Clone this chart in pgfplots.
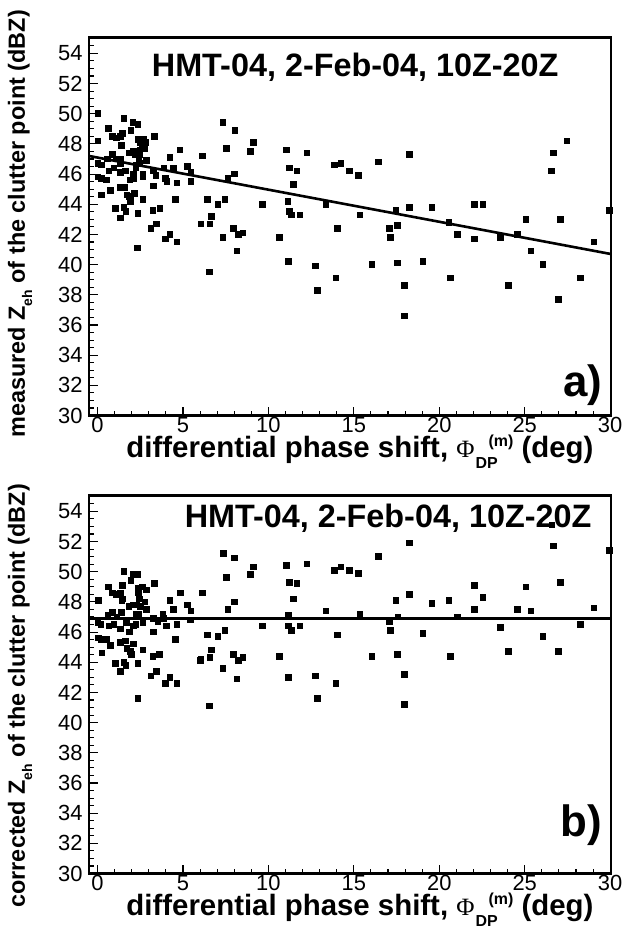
\documentclass[border=0pt]{standalone}
\usepackage{fontspec}
\setmainfont{Liberation Sans}
\newfontfamily\serifgreek{Liberation Serif}
\usepackage{pgfplots}
\pgfplotsset{compat=1.18}

\pgfplotstableread{
x y
0.02 50.0
1.54 49.7
2.07 49.4
2.36 49.3
7.35 49.4
0.64 49.0
1.95 48.9
1.46 48.7
8.05 48.9
0.86 48.5
1.11 48.4
1.35 48.5
3.35 48.5
2.36 48.3
2.71 48.3
0.02 48.2
2.48 48.1
2.83 48.1
2.61 48.0
9.14 48.1
1.40 47.9
2.77 47.7
2.61 47.7
7.54 47.7
4.83 47.6
2.48 47.6
2.12 47.5
2.32 47.5
1.85 47.4
8.95 47.5
0.88 47.3
2.22 47.3
2.48 47.3
6.16 47.2
0.57 47.0
1.11 47.0
1.33 47.0
4.25 47.1
2.42 47.1
0.02 46.7
0.23 46.6
1.35 46.7
2.44 46.7
2.85 46.9
0.66 46.2
0.96 46.4
1.35 46.1
1.64 46.2
2.24 46.4
2.26 46.6
3.26 46.2
3.43 45.9
3.88 46.4
4.44 46.4
5.26 46.5
5.48 46.1
2.65 46.0
2.65 45.8
2.09 46.0
0.02 45.8
0.23 45.7
0.53 45.6
1.89 45.6
2.11 45.7
3.98 45.7
4.07 45.5
4.66 45.4
5.46 45.5
8.03 46.0
7.64 45.7
3.26 45.2
0.76 44.9
1.35 45.1
1.60 45.1
2.16 44.7
1.73 44.6
1.87 44.5
0.23 44.6
1.95 44.3
1.93 44.2
2.67 44.3
4.56 44.3
6.45 44.3
7.45 44.3
7.06 44.0
1.05 43.7
1.54 43.8
1.66 43.5
3.24 43.6
3.65 43.7
2.36 43.4
1.36 43.1
6.67 43.2
6.06 42.7
6.57 42.7
3.45 42.7
3.14 42.4
7.95 42.4
8.52 42.1
8.25 42.0
4.25 42.0
3.96 41.7
7.35 41.8
4.66 41.5
2.34 41.1
8.15 40.9
6.55 39.5
11.05 47.6
12.26 47.4
11.25 46.4
11.68 46.2
13.86 46.6
14.25 46.7
14.76 46.2
15.26 45.9
16.45 46.8
18.27 47.3
11.46 45.3
9.67 44.0
11.15 44.2
11.25 43.5
11.36 43.3
11.85 43.3
13.37 44.0
15.36 43.3
17.46 43.6
18.27 43.8
14.05 42.4
17.08 42.4
17.56 42.6
17.15 41.8
10.66 41.8
11.17 40.2
12.75 39.9
16.06 40.0
17.54 40.1
19.04 40.2
13.96 39.1
12.87 38.3
17.95 38.6
17.95 36.6
27.47 48.2
26.67 47.4
26.57 46.2
19.57 43.8
22.07 44.0
22.55 44.0
29.96 43.6
20.58 42.8
25.07 43.0
27.08 43.0
21.07 42.0
22.07 41.7
23.57 41.8
24.56 42.0
29.06 41.5
25.36 40.9
26.08 40.0
20.66 39.1
24.05 38.6
28.26 39.1
26.96 37.7
}\measured

\pgfplotstableread{
x y
7.37 51.2
8.03 50.9
9.14 50.3
8.95 49.8
1.54 50.0
2.07 49.8
2.36 49.8
1.95 49.4
7.54 49.6
3.35 49.2
0.64 49.0
1.46 49.1
0.86 48.6
1.11 48.5
1.35 48.6
2.36 48.9
2.63 49.0
2.87 48.8
0.04 48.1
4.85 48.6
6.16 48.6
1.42 48.1
1.45 48.2
2.40 48.6
2.44 48.2
2.77 48.0
4.25 48.1
8.03 48.0
7.64 47.5
5.26 47.8
1.85 47.7
2.12 47.8
2.28 47.8
2.51 47.7
2.88 47.5
4.46 47.5
5.46 47.4
0.88 47.3
1.40 47.3
1.13 47.0
0.62 47.1
2.28 47.2
2.42 47.2
3.84 47.2
3.26 46.9
3.53 46.7
3.88 46.9
5.44 46.8
0.02 46.6
0.21 46.5
0.68 46.4
0.96 46.5
1.68 46.6
2.24 46.5
2.67 46.6
4.04 46.4
4.66 46.5
1.35 46.2
1.87 46.0
2.09 46.4
3.26 46.0
0.06 45.6
0.23 45.5
0.53 45.5
1.35 45.3
1.64 45.4
4.56 45.5
6.45 45.8
7.06 45.7
7.45 46.1
0.76 45.1
2.12 45.2
2.65 44.8
6.67 44.8
1.73 44.9
1.93 44.7
1.97 44.5
0.25 44.6
3.24 44.4
3.64 44.5
6.06 44.2
6.04 44.1
6.57 44.3
7.95 44.5
8.52 44.3
8.25 44.1
1.05 43.9
1.54 44.0
1.66 43.8
2.36 43.9
7.35 43.6
1.36 43.4
3.45 43.4
3.14 43.1
4.25 43.0
3.96 42.6
4.66 42.6
8.15 42.9
2.36 41.6
6.55 41.1
18.27 51.9
16.45 51.0
11.05 50.4
12.26 50.5
13.86 50.1
14.25 50.3
14.76 50.1
15.26 49.9
11.25 49.3
11.68 49.2
11.46 48.2
17.46 48.1
18.27 48.5
13.37 47.4
15.36 47.2
11.17 47.1
17.58 47.0
9.67 46.4
11.17 46.4
11.36 46.1
11.85 46.4
17.08 46.7
17.15 46.1
14.05 45.8
19.04 45.9
10.66 44.4
16.06 44.4
17.54 44.5
11.17 43.0
12.75 43.1
13.96 42.6
12.87 41.6
17.95 43.2
17.95 41.2
26.60 53.1
26.67 51.7
29.96 51.4
19.57 47.9
22.07 49.1
22.55 48.3
25.07 49.0
27.08 49.3
20.58 48.1
21.07 47.0
22.07 47.5
24.56 47.5
25.36 47.4
29.06 47.6
23.57 46.3
26.08 45.7
28.28 46.5
20.66 44.4
24.05 44.7
26.96 44.7
}\corrected

\newcommand{\phidp}{{\serifgreek\mdseries\fontsize{25}{25}\selectfont Φ}\hspace{1bp}\rlap{\raisebox{-11bp}{\fontsize{16}{16}\selectfont DP}}\hspace{13bp}\raisebox{11bp}{\fontsize{16}{16}\selectfont(m)}}
\newcommand{\zeh}{Z\raisebox{-0.3em}{\fontsize{14}{14}\selectfont eh}}

\pgfplotsset{
  panel/.style={
    scale only axis, width=522bp, height=378bp, anchor=south west,
    xmin=-0.5, xmax=30.05, ymin=30, ymax=55.05,
    xtick={0,5,...,30}, ytick={30,32,...,54},
    minor xtick={0,1,...,30}, minor ytick={30,30.5,...,55},
    tick align=inside, xtick pos=bottom, ytick pos=left,
    major tick length=9bp, minor tick length=5bp,
    every tick/.style={black, line width=1.1bp},
    axis line style={line width=2.2bp},
    tick label style={font=\fontsize{22}{22}\selectfont},
    /pgf/number format/assume math mode=true,
    xticklabel style={yshift=2bp},
    yticklabel style={xshift=-3bp},
    xlabel style={at={(axis description cs:0.519,0)}, anchor=base, yshift=-41.5bp,
      font=\bfseries\fontsize{29.5}{29.5}\selectfont},
    ylabel style={anchor=center, rotate=0,
      font=\bfseries\fontsize{23.5}{23.5}\selectfont},
    xlabel={differential phase shift, \phidp\ (deg)},
  },
  pts/.style={only marks, mark=square*, mark size=2.8bp, mark options={black, line width=0pt}},
}

\begin{document}
\begin{tikzpicture}
\path[use as bounding box] (0bp,0bp) rectangle (623bp,-930bp);
\begin{axis}[panel, at={(89bp,-415.5bp)},
  ylabel style={at={(axis description cs:-0.132,0.507)}},
  ylabel={measured \zeh\ of the clutter point (dBZ)}]
\addplot[pts] table[x=x,y=y] {\measured};
\addplot[black, line width=2.6bp] coordinates {(-0.5,47.2) (30.05,40.7)};
\node[font=\bfseries\fontsize{32.5}{32.5}\selectfont] at (axis description cs:0.51,0.92) {HMT-04, 2-Feb-04, 10Z-20Z};
\node[font=\bfseries\fontsize{44}{44}\selectfont, anchor=east] at (axis description cs:0.99,0.081) {a)};
\end{axis}
\begin{axis}[panel, at={(89bp,-873.5bp)},
  ylabel style={at={(axis description cs:-0.132,0.47)}},
  ylabel={corrected \zeh\ of the clutter point (dBZ)}]
\addplot[pts] table[x=x,y=y] {\corrected};
\addplot[black, line width=2.6bp] coordinates {(-0.5,46.9) (30.05,46.9)};
\node[font=\bfseries\fontsize{32.5}{32.5}\selectfont] at (axis description cs:0.573,0.94) {HMT-04, 2-Feb-04, 10Z-20Z};
\node[font=\bfseries\fontsize{44}{44}\selectfont, anchor=east] at (axis description cs:0.99,0.128) {b)};
\end{axis}
\end{tikzpicture}
\end{document}
